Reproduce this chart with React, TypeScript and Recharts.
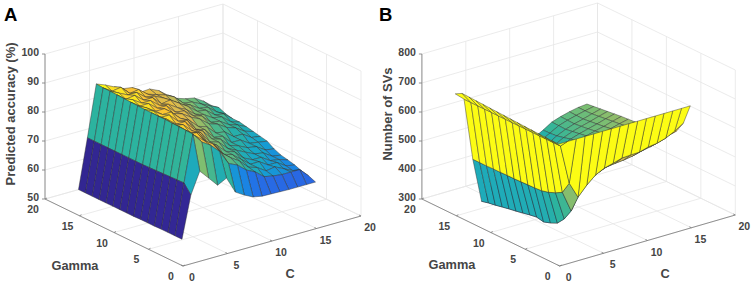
import React from "react";
import { ScatterChart, Scatter, XAxis, YAxis } from "recharts";

// grid the surfaces were sampled on
const cGrid = [1, 2, 3, 4, 5, 6, 7, 8, 9, 10, 11, 12, 13, 14, 15, 16];
const gammaGrid = [1, 2, 3, 4, 5, 6, 7, 8, 9, 10, 11, 12, 13, 14, 15, 16];

const cTicks = [0, 5, 10, 15, 20];
const gammaTicks = [0, 5, 10, 15, 20];
const accuracyTicks = [50, 60, 70, 80, 90, 100];
const svTicks = [300, 400, 500, 600, 700, 800];

// one row per gamma, one value per C
const accuracyRows = [
  [57.2, 71.6, 79, 75.7, 72.4, 74, 68.3, 66.4, 64.9, 64.3, 64.2, 64.1, 64, 64, 64, 64],
  [57.2, 74.6, 90.6, 87, 85, 82, 77, 75.6, 73, 71.5, 69, 68.4, 68, 68, 68, 65],
  [57.2, 74.5, 90.7, 88, 85.5, 83.5, 79.5, 77, 75, 72, 71, 69, 69.5, 68, 66.5, 65.5],
  [57.2, 74.4, 90.8, 87.5, 87, 83, 81, 77, 76, 73.5, 71, 71, 69, 69, 67, 66.4],
  [57.1, 74.3, 90.9, 88.5, 86, 85, 80.5, 79, 76, 75, 72, 70.5, 70.5, 68.5, 68, 67],
  [57.1, 74.2, 91, 88, 87.5, 84.5, 83, 79, 78, 75, 73.5, 72, 70.5, 70, 68, 67.5],
  [57.1, 74.1, 91, 89, 86.5, 86.5, 83, 81.5, 78, 77, 74, 73, 71.5, 71, 69, 68.5],
  [57, 74, 91, 88.5, 88.5, 85.5, 85, 81, 80, 76.5, 76, 73, 73, 71, 70.5, 70],
  [57, 74, 91, 89.5, 87.5, 87.5, 84.5, 83, 80, 79, 76, 75.5, 73, 73, 71, 70.5],
  [57, 74, 91.1, 89.5, 87.5, 87.5, 85, 84, 82, 80.5, 78, 77, 75, 74, 72, 71],
  [57, 74, 91.2, 89, 89, 86.5, 86.5, 83.5, 83, 80.5, 79.5, 76.5, 76, 74, 73, 71.5],
  [57, 74, 91.3, 90, 88, 88, 85.5, 85, 83, 81.5, 79, 78, 76, 75.5, 73, 72],
  [57, 74, 91.4, 89, 89.5, 87, 87, 84, 84.5, 82.5, 80.5, 78, 77.5, 75, 74.5, 72],
  [57, 74, 91.5, 90, 88.5, 88.5, 86, 85.5, 84, 82, 80, 79, 77, 76.5, 74, 72.5],
  [57, 74, 91.5, 89.5, 90, 87, 87.5, 85, 84, 83, 81.5, 78.5, 78, 76.5, 75, 73.5],
  [57, 74, 91.7, 90.5, 89, 87.5, 87, 84.6, 84.8, 83.4, 81, 79, 78, 77.4, 75.5, 73],
];

const svRows = [
  [700, 700, 700, 700, 700, 700, 700, 700, 700, 700, 700, 700, 700, 700, 700, 700],
  [700, 673, 536, 479, 512, 538, 553, 561, 570, 572, 573, 582, 586, 595, 610, 629],
  [701, 673, 493, 420, 477, 509, 524, 536, 540, 543, 548, 556, 562, 570, 582, 590],
  [702, 673, 480, 381, 445, 490, 512, 525, 535, 540, 545, 552, 558, 565, 575, 585],
  [703, 673, 470, 355, 420, 470, 500, 518, 528, 532, 538, 545, 550, 555, 565, 572],
  [704, 673, 464, 344, 400, 450, 488, 510, 522, 528, 532, 538, 543, 550, 558, 565],
  [705, 673, 462, 336, 385, 435, 478, 500, 515, 522, 528, 534, 540, 545, 553, 560],
  [706, 673, 461, 341, 375, 425, 468, 490, 508, 516, 524, 530, 536, 541, 549, 555],
  [707, 673, 460, 337, 368, 415, 458, 480, 500, 510, 520, 526, 532, 538, 546, 552],
  [708, 673, 459, 332, 360, 408, 448, 472, 492, 504, 514, 522, 528, 535, 543, 550],
  [709, 673, 459, 327, 355, 402, 440, 464, 484, 496, 508, 516, 524, 531, 540, 548],
  [710, 673, 458, 323, 350, 396, 432, 456, 474, 488, 502, 512, 520, 528, 537, 545],
  [711, 673, 458, 318, 347, 392, 425, 449, 466, 480, 496, 508, 517, 525, 534, 542],
  [712, 673, 457, 313, 344, 388, 420, 443, 460, 473, 490, 504, 514, 522, 531, 539],
  [713, 673, 457, 309, 342, 384, 415, 439, 457, 472, 488, 505, 515, 523, 530, 536],
  [700, 673, 457, 303, 340, 380, 410, 435, 455, 470, 487, 506, 516, 524, 530, 533],
];

const parula = [
  [50, 38, 146],
  [62, 70, 220],
  [28, 125, 232],
  [20, 165, 205],
  [46, 180, 155],
  [120, 190, 115],
  [215, 185, 80],
  [252, 195, 50],
  [252, 252, 20],
];

const FONT = "'Liberation Sans', Arial, sans-serif";
const TEXT = "#454545";
const W = 377;
const H = 284;

const faceColor = (t: number) => {
  const p = Math.max(0, Math.min(0.9999, t)) * (parula.length - 1);
  const i = Math.floor(p);
  const f = p - i;
  const c = parula[i].map((v, k) => Math.round(v + (parula[i + 1][k] - v) * f));
  return `rgb(${c[0]},${c[1]},${c[2]})`;
};

// shapes: anchor comes from the chart's scales, other corners are relative to it
const Facet = (props: any) => {
  const { cx, cy, payload } = props;
  const pts = payload.corners
    .map((p: number[]) => `${cx + p[0] - payload.x},${cy + p[1] - payload.y}`)
    .join(" ");
  return (
    <polygon
      points={pts}
      fill={payload.fill}
      stroke="#303030"
      strokeOpacity={0.75}
      strokeWidth={0.6}
      strokeLinejoin="round"
    />
  );
};

const Segment = (props: any) => {
  const { cx, cy, payload } = props;
  return (
    <line
      x1={cx}
      y1={cy}
      x2={cx + payload.x2 - payload.x}
      y2={cy + payload.y2 - payload.y}
      stroke={payload.stroke}
      strokeWidth={payload.width}
    />
  );
};

const Label = (props: any) => {
  const { cx, cy, payload } = props;
  return (
    <text
      x={cx}
      y={cy}
      textAnchor={payload.anchor}
      dominantBaseline="central"
      fontFamily={FONT}
      fontWeight="bold"
      fontSize={payload.size}
      fill={payload.color}
      transform={payload.rotate ? `rotate(${payload.rotate} ${cx} ${cy})` : undefined}
    >
      {payload.text}
    </text>
  );
};

const Panel = ({ rows, zTicks, colorMax, origin, cStep, gStep, zScale, letter, letterX, zLabel, gammaAt, cAt }: any) => {
  const zMin = zTicks[0];
  const zMax = zTicks[zTicks.length - 1];
  const lo = Math.min(...rows.flat());
  const surfaceShift = -3;

  const project = (c: number, g: number, z: number) => [
    origin[0] + c * cStep[0] - g * gStep[0],
    origin[1] - c * cStep[1] - g * gStep[1] - (z - zMin) * zScale,
  ];

  const seg = (a: number[], b: number[], stroke: string, width = 0.8) => ({
    x: a[0],
    y: a[1],
    x2: b[0],
    y2: b[1],
    stroke,
    width,
  });

  const cMax = cTicks[cTicks.length - 1];
  const gMax = gammaTicks[gammaTicks.length - 1];
  const wall = "#e6e6e6";
  const axis = "#777777";

  const gridLines: any[] = [];
  cTicks.forEach((c) => {
    gridLines.push(seg(project(c, 0, zMin), project(c, gMax, zMin), wall));
    gridLines.push(seg(project(c, gMax, zMin), project(c, gMax, zMax), wall));
  });
  gammaTicks.forEach((g) => {
    gridLines.push(seg(project(0, g, zMin), project(cMax, g, zMin), wall));
    gridLines.push(seg(project(cMax, g, zMin), project(cMax, g, zMax), wall));
  });
  zTicks.forEach((z: number) => {
    gridLines.push(seg(project(0, gMax, z), project(cMax, gMax, z), wall));
    gridLines.push(seg(project(cMax, gMax, z), project(cMax, 0, z), wall));
  });

  const axisLines: any[] = [
    seg(project(0, 0, zMin), project(0, gMax, zMin), axis),
    seg(project(0, 0, zMin), project(cMax, 0, zMin), axis),
    seg(project(0, gMax, zMin), project(0, gMax, zMax), axis),
  ];
  cTicks.forEach((c) => {
    const a = project(c, 0, zMin);
    axisLines.push(seg(a, [a[0] - 2, a[1] - 1], axis));
  });
  gammaTicks.forEach((g) => {
    const a = project(0, g, zMin);
    axisLines.push(seg(a, [a[0] + 2, a[1] - 1], axis));
  });
  zTicks.forEach((z: number) => {
    const a = project(0, gMax, z);
    axisLines.push(seg(a, [a[0] - 3, a[1]], axis));
  });

  // back to front, the viewer sits at low C and low gamma
  const facets: any[] = [];
  for (let g = gammaGrid.length - 2; g >= 0; g--) {
    for (let c = cGrid.length - 2; c >= 0; c--) {
      const at = (i: number, j: number) => {
        const p = project(cGrid[j], gammaGrid[i], rows[i][j]);
        return [p[0] + surfaceShift, p[1]];
      };
      const first = at(g, c);
      facets.push({
        x: first[0],
        y: first[1],
        corners: [first, at(g, c + 1), at(g + 1, c + 1), at(g + 1, c)],
        fill: faceColor((rows[g][c] - lo) / (colorMax - lo)),
      });
    }
  }

  const labels: any[] = [];
  const addLabel = (p: number[], text: string | number, anchor: string, size: number, color = TEXT, rotate = 0) => {
    labels.push({ x: p[0], y: p[1], text, anchor, size, color, rotate });
  };
  cTicks.forEach((c) => {
    const a = project(c, 0, zMin);
    addLabel([a[0] + 9, a[1] + 11], c, "middle", 10.5);
  });
  gammaTicks.forEach((g) => {
    const a = project(0, g, zMin);
    addLabel([a[0] - 12, a[1] + 10], g, "middle", 10.5);
  });
  zTicks.forEach((z: number) => {
    const a = project(0, gMax, z);
    addLabel([a[0] - 6, a[1] - 2], z, "end", 10.5);
  });
  addLabel(gammaAt, "Gamma", "middle", 12.8);
  addLabel(cAt, "C", "middle", 12.8);
  addLabel([10, 114], zLabel, "middle", 13, TEXT, -90);
  addLabel([letterX, 14], letter, "start", 18.5, "#000000");

  return (
    <ScatterChart width={W} height={H} margin={{ top: 0, right: 0, bottom: 0, left: 0 }}>
      <XAxis type="number" dataKey="x" domain={[0, W]} hide />
      <YAxis type="number" dataKey="y" domain={[0, H]} reversed hide />
      <Scatter data={gridLines} shape={Segment} isAnimationActive={false} />
      <Scatter data={axisLines} shape={Segment} isAnimationActive={false} />
      <Scatter data={facets} shape={Facet} isAnimationActive={false} />
      <Scatter data={labels} shape={Label} isAnimationActive={false} />
    </ScatterChart>
  );
};

export default function App() {
  return (
    <div style={{ position: "absolute", left: 0, top: 0, width: 754, height: 284, display: "flex", background: "#fff" }}>
      <Panel
        rows={accuracyRows}
        zTicks={accuracyTicks}
        colorMax={91.7}
        origin={[183, 266]}
        cStep={[8.9, 2.5]}
        gStep={[6.9, 3.35]}
        zScale={2.9}
        letter="A"
        letterX={4}
        zLabel="Predicted accuracy (%)"
        gammaAt={[75, 265]}
        cAt={[290, 273]}
      />
      <Panel
        rows={svRows}
        zTicks={svTicks}
        colorMax={665}
        origin={[182.7, 266]}
        cStep={[8.78, 2.55]}
        gStep={[6.89, 3.35]}
        zScale={0.29}
        letter="B"
        letterX={2}
        zLabel="Number of SVs"
        gammaAt={[75, 264]}
        cAt={[288, 273]}
      />
    </div>
  );
}
